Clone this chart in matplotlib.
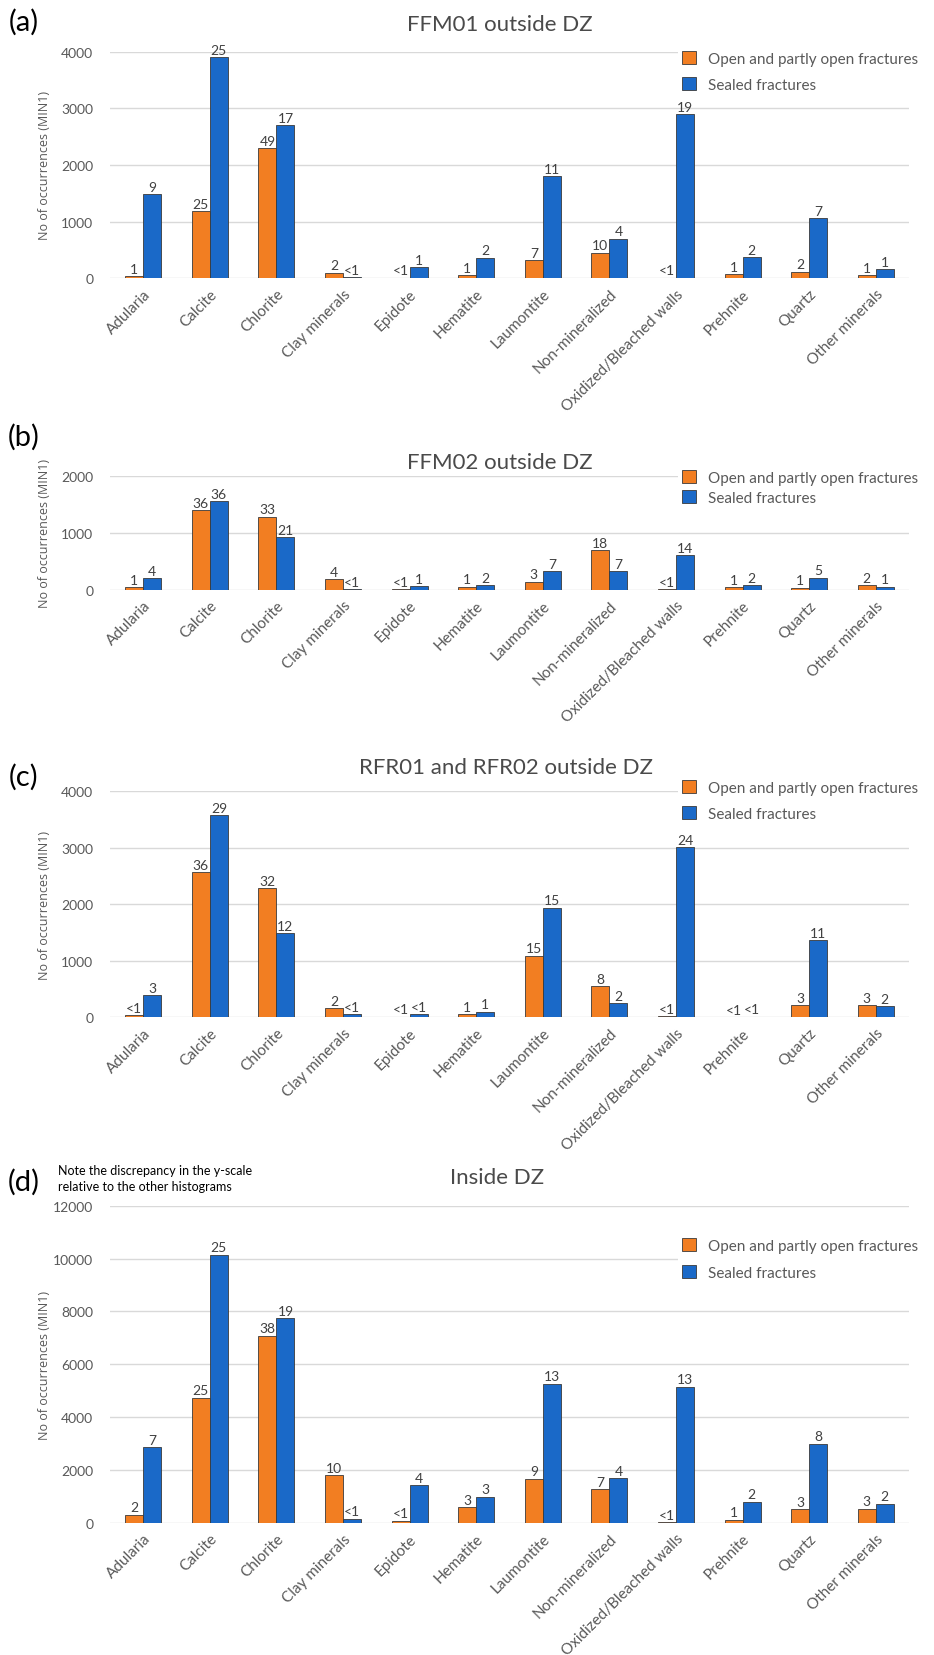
import matplotlib
matplotlib.use('Agg')
import matplotlib.pyplot as plt
import numpy as np

plt.rcParams['font.family'] = ['Lato', 'DejaVu Sans']

categories = ['Adularia', 'Calcite', 'Chlorite', 'Clay minerals', 'Epidote',
              'Hematite', 'Laumontite', 'Non-mineralized',
              'Oxidized/Bleached walls', 'Prehnite', 'Quartz', 'Other minerals']

# (a) FFM01 outside DZ
a_open = [40, 1180, 2300, 100, 10, 60, 320, 450, 10, 70, 115, 60]
a_sealed = [1480, 3900, 2700, 15, 200, 365, 1800, 700, 2900, 370, 1060, 165]
a_open_pct = ['1', '25', '49', '2', '<1', '1', '7', '10', '<1', '1', '2', '1']
a_sealed_pct = ['9', '25', '17', '<1', '1', '2', '11', '4', '19', '2', '7', '1']

# (b) FFM02 outside DZ
b_open = [40, 1400, 1280, 180, 5, 50, 140, 690, 5, 40, 35, 80]
b_sealed = [200, 1550, 920, 10, 60, 80, 330, 320, 610, 75, 210, 55]
b_open_pct = ['1', '36', '33', '4', '<1', '1', '3', '18', '<1', '1', '1', '2']
b_sealed_pct = ['4', '36', '21', '<1', '1', '2', '7', '7', '14', '2', '5', '1']

# (c) RFR01 and RFR02 outside DZ
c_open = [35, 2570, 2280, 160, 10, 60, 1090, 550, 15, 5, 210, 210]
c_sealed = [390, 3580, 1490, 50, 50, 100, 1940, 250, 3010, 12, 1370, 200]
c_open_pct = ['<1', '36', '32', '2', '<1', '1', '15', '8', '<1', '<1', '3', '3']
c_sealed_pct = ['3', '29', '12', '<1', '<1', '1', '15', '2', '24', '<1', '11', '2']

# (d) Inside DZ
d_open = [310, 4740, 7080, 1810, 90, 600, 1680, 1280, 40, 130, 530, 540]
d_sealed = [2860, 10150, 7750, 170, 1440, 1000, 5270, 1700, 5150, 810, 3000, 730]
d_open_pct = ['2', '25', '38', '10', '<1', '3', '9', '7', '<1', '1', '3', '3']
d_sealed_pct = ['7', '25', '19', '<1', '4', '3', '13', '4', '13', '2', '8', '2']

ORANGE = '#F27E22'
BLUE = '#1A69C8'
GREY = '#595959'

W, H = 934, 1656
fig = plt.figure(figsize=(W / 100, H / 100), dpi=100)


def px_rect(left, top, right, bottom):
    return [left / W, 1 - bottom / H, (right - left) / W, (bottom - top) / H]


def panel(rect, opn, sealed, opn_pct, sealed_pct, ymax, step, title, title_xy,
          tag, tag_y, leg_y, leg_spacing):
    ax = fig.add_axes(rect)
    x = np.arange(len(categories))
    w = 0.27
    b1 = ax.bar(x - w / 2, opn, w, color=ORANGE, edgecolor='#3a3a3a',
                linewidth=0.6, zorder=3, label='Open and partly open fractures')
    b2 = ax.bar(x + w / 2, sealed, w, color=BLUE, edgecolor='#3a3a3a',
                linewidth=0.6, zorder=3, label='Sealed fractures')
    for bars, labels in ((b1, opn_pct), (b2, sealed_pct)):
        for r, s in zip(bars, labels):
            ax.annotate(s, (r.get_x() + r.get_width() / 2, r.get_height()),
                        xytext=(0, 1), textcoords='offset points',
                        ha='center', va='bottom', fontsize=10, color='#404040',
                        zorder=4)
    ax.set_xlim(-0.5, len(categories) - 0.5)
    ax.set_ylim(0, ymax)
    ax.set_yticks(np.arange(0, ymax + 1, step))
    ax.yaxis.grid(True, color='#d9d9d9', linewidth=1, zorder=0)
    ax.set_axisbelow(True)
    for sp in ax.spines.values():
        sp.set_visible(False)
    ax.tick_params(axis='both', length=0, colors=GREY, labelsize=10)
    ax.tick_params(axis='y', pad=12)
    ax.set_xticks(x)
    ax.set_xticklabels(categories, rotation=45, ha='right', rotation_mode='anchor',
                       fontsize=11, color=GREY)
    ax.tick_params(axis='x', pad=6)

    cy = rect[1] + rect[3] / 2
    fig.text(45 / W, cy, 'No of occurrences (MIN1)', rotation=90,
             ha='center', va='center', fontsize=9, color=GREY,
             family=['Open Sans', 'DejaVu Sans'])
    fig.text(title_xy[0] / W, 1 - title_xy[1] / H, title, ha='center',
             va='center', fontsize=16, color='#4a4a4a')
    fig.text(24 / W, 1 - tag_y / H, tag, ha='center', va='center', fontsize=21,
             color='black')
    fig.legend(handles=[b1, b2], loc='upper left',
               bbox_to_anchor=(670 / W, 1 - leg_y / H), frameon=True,
               facecolor='white', edgecolor='none', framealpha=1,
               fontsize=11, handlelength=0.9, handleheight=0.9,
               handletextpad=0.8, labelspacing=leg_spacing, borderpad=0.3,
               labelcolor=GREY, fancybox=False)
    return ax


panel(px_rect(110, 52.7, 909, 279.3), a_open, a_sealed, a_open_pct, a_sealed_pct,
      4000, 1000, 'FFM01 outside DZ', (500, 25), '(a)', 22, 40, 0.75)
panel(px_rect(110, 476.7, 909, 590.7), b_open, b_sealed, b_open_pct, b_sealed_pct,
      2000, 1000, 'FFM02 outside DZ', (500, 463), '(b)', 437, 459, 0.35)
panel(px_rect(110, 792.3, 909, 1018.3), c_open, c_sealed, c_open_pct, c_sealed_pct,
      4000, 1000, 'RFR01 and RFR02 outside DZ', (506, 768), '(c)', 777, 769, 0.75)
panel(px_rect(110, 1206.7, 909, 1524), d_open, d_sealed, d_open_pct, d_sealed_pct,
      12000, 2000, 'Inside DZ', (497, 1178), '(d)', 1182, 1227, 0.8)

fig.text(58 / W, 1 - 1171 / H, 'Note the discrepancy in the y-scale',
         ha='left', va='center', fontsize=9, color='black')
fig.text(58 / W, 1 - 1187 / H, 'relative to the other histograms',
         ha='left', va='center', fontsize=9, color='black')

fig.savefig('out.png', dpi=100, facecolor='white')
